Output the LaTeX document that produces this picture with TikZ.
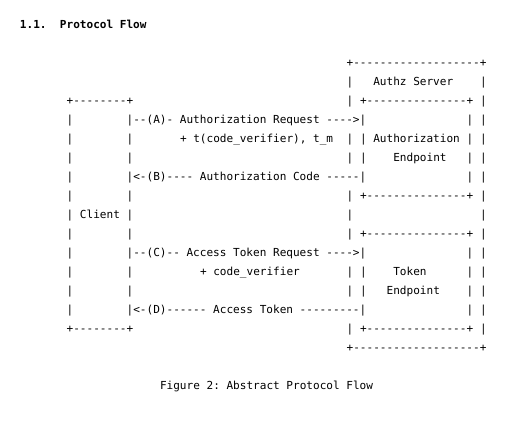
\documentclass[tikz,border=0pt]{standalone}
\usepackage{fontspec}
\setmonofont{DejaVu Sans Mono}
\usepackage{tikz}
\usetikzlibrary{positioning}

\begin{document}
\begin{tikzpicture}[
    x=6.667bp,y=-19bp,
    ascii/.style={anchor=base west,inner sep=0pt,outer sep=0pt,
      font=\ttfamily\fontsize{11.1}{13}\selectfont},
    heading/.style={ascii,font=\ttfamily\bfseries\fontsize{11.1}{13}\selectfont}
  ]
  \useasboundingbox[fill=white] (-3,-1.484) rectangle (75.9,21.358);
  % section heading
  \node[heading] (secno) at (0,0) {1.1.};
  \node[heading] (sectitle) at (6,0) {Protocol Flow};
  % client box
  \node[ascii] (cltop) at (7,4) {+--------+};
  \node[ascii] (clbot) at (7,16) {+--------+};
  \foreach \r in {5,6,7,8,9,11,12,13,14,15} \node[ascii] (cl-\r) at (7,\r) {|};
  \foreach \r in {6,7,9,11,13,14} \node[ascii] (cr-\r) at (16,\r) {|};
  \node[ascii] (client) at (7,10) {| Client |};
  % authz server box
  \node[ascii] (srvtop) at (49,2) {+-------------------+};
  \node[ascii] (srvbot) at (49,17) {+-------------------+};
  \foreach \r in {3,4,6,7,9,10,11,13,14,16} \node[ascii] (so-\r) at (49,\r) {|};
  \foreach \r in {3,...,16} \node[ascii] (se-\r) at (69,\r) {|};
  \node[ascii] (authz) at (53,3) {Authz Server};
  % endpoints
  \node[ascii] (aetop) at (51,4) {+---------------+};
  \node[ascii] (aebot) at (51,9) {+---------------+};
  \node[ascii] (tetop) at (51,11) {+---------------+};
  \node[ascii] (tebot) at (51,16) {+---------------+};
  \foreach \r in {6,7,13,14} \node[ascii] (ei-\r) at (51,\r) {|};
  \foreach \r in {5,6,7,8,12,13,14,15} \node[ascii] (ee-\r) at (67,\r) {|};
  \node[ascii] (authep) at (53,6) {Authorization};
  \node[ascii] (authep2) at (56,7) {Endpoint};
  \node[ascii] (tokenep) at (56,13) {Token};
  \node[ascii] (tokenep2) at (55,14) {Endpoint};
  % flows
  \node[ascii] (flowA) at (16,5) {|--(A)- Authorization Request ---->|};
  \node[ascii] (flowA2) at (24,6) {+ t(code\_verifier), t\_m};
  \node[ascii] (flowB) at (16,8) {|<-(B)---- Authorization Code -----|};
  \node[ascii] (flowC) at (16,12) {|--(C)-- Access Token Request ---->|};
  \node[ascii] (flowC2) at (27,13) {+ code\_verifier};
  \node[ascii] (flowD) at (16,15) {|<-(D)------ Access Token ---------|};
  % caption
  \node[ascii] (caption) at (21,19) {Figure 2: Abstract Protocol Flow};
\end{tikzpicture}
\end{document}
